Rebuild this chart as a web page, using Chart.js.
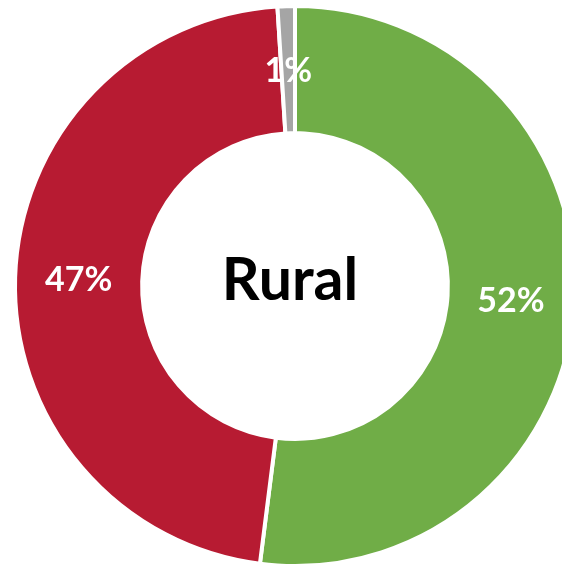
<!DOCTYPE html>
<html>
<head>
<meta charset="utf-8">
<script src="https://cdn.jsdelivr.net/npm/chart.js@4.4.1/dist/chart.umd.min.js"></script>
<style>
  html, body { margin: 0; padding: 0; background: #ffffff; overflow: hidden; }
  #wrap { position: absolute; left: 0; top: 0; width: 590px; height: 572px; }
</style>
</head>
<body>
<div id="wrap"><canvas id="c" width="590" height="572"></canvas></div>
<script>
// Share of respondents, rural areas
const categories = ['Yes', 'No', 'No answer'];
const shares = [52, 47, 1];
const sliceColors = ['#70AD47', '#B71B32', '#A5A5A5'];
const centerTitle = 'Rural';

// Percentage labels at the middle of each ring segment
const sliceLabels = {
  id: 'sliceLabels',
  afterDatasetsDraw(chart) {
    const ctx = chart.ctx;
    const meta = chart.getDatasetMeta(0);
    ctx.save();
    ctx.fillStyle = '#ffffff';
    ctx.font = 'bold 34px Lato, "Open Sans", sans-serif';
    ctx.textAlign = 'center';
    ctx.textBaseline = 'middle';
    meta.data.forEach((arc, i) => {
      const p = arc.tooltipPosition();
      ctx.fillText(shares[i] + '%', p.x, p.y + 1);
    });
    ctx.restore();
  }
};

// Title written in the hole of the doughnut
const centerText = {
  id: 'centerText',
  afterDraw(chart) {
    const ctx = chart.ctx;
    const meta = chart.getDatasetMeta(0);
    const arc = meta.data[0];
    ctx.save();
    ctx.fillStyle = '#000000';
    ctx.font = 'bold 59px Lato, "Open Sans", sans-serif';
    ctx.textAlign = 'center';
    ctx.textBaseline = 'alphabetic';
    ctx.fillText(centerTitle, arc.x - 5, arc.y + 14);
    ctx.restore();
  }
};

new Chart(document.getElementById('c'), {
  type: 'doughnut',
  data: {
    labels: categories,
    datasets: [{
      data: shares,
      backgroundColor: sliceColors,
      borderColor: '#ffffff',
      borderWidth: 4,
      borderJoinStyle: 'bevel',
      hoverOffset: 0,
      offset: 0
    }]
  },
  options: {
    responsive: false,
    devicePixelRatio: 1,
    animation: false,
    radius: 280,
    cutout: '54.6%',
    rotation: 0,
    layout: { padding: 0 },
    plugins: {
      legend: { display: false },
      tooltip: { enabled: false }
    }
  },
  plugins: [sliceLabels, centerText]
});
</script>
</body>
</html>
